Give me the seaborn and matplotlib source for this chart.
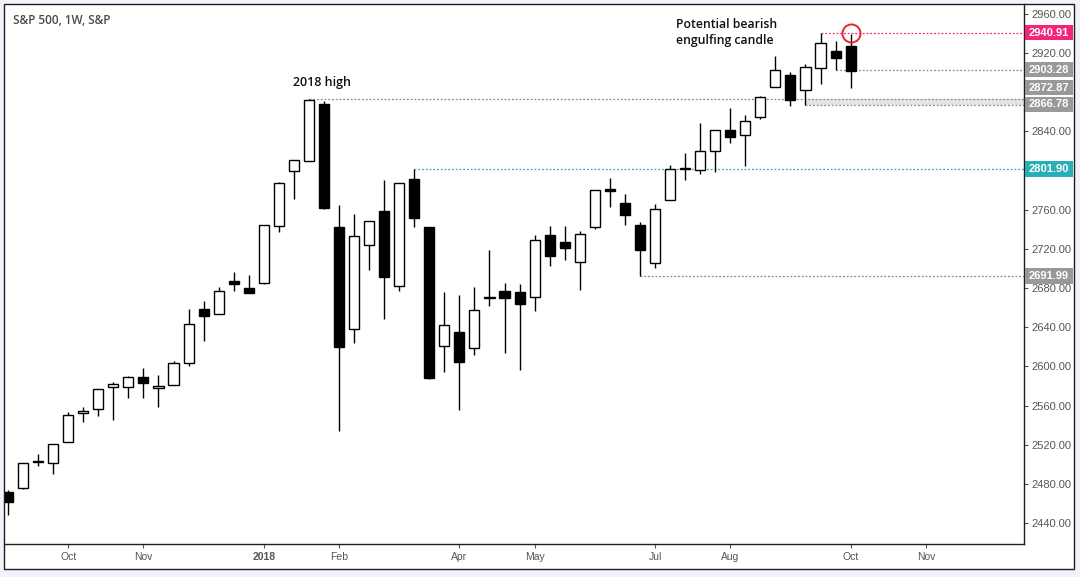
import numpy as np
import pandas as pd
import matplotlib
matplotlib.use("Agg")
import matplotlib.pyplot as plt
import matplotlib.transforms as mtransforms
from matplotlib.patches import Rectangle
import seaborn as sns

# ---------------- data ----------------
weeks = pd.date_range("2017-09-04", periods=57, freq="7D")

opens = [2471.3, 2475.4, 2503.0, 2500.9, 2522.4, 2552.0, 2556.1, 2578.6, 2578.6, 2588.8,
         2577.6, 2580.6, 2603.1, 2658.6, 2653.2, 2687.2, 2679.7, 2684.9, 2743.4, 2799.3,
         2809.5, 2868.0, 2742.4, 2637.9, 2723.7, 2758.7, 2681.8, 2791.1, 2742.1, 2620.5,
         2634.8, 2618.4, 2670.0, 2676.7, 2675.7, 2670.5, 2733.9, 2726.7, 2706.3, 2742.1,
         2781.0, 2766.6, 2744.1, 2705.3, 2769.7, 2802.5, 2800.3, 2819.7, 2841.2, 2836.1,
         2854.5, 2885.1, 2897.4, 2882.0, 2904.5, 2921.9, 2927.0]
highs = [2473.7, 2501.5, 2510.4, 2520.3, 2553.1, 2558.2, 2576.6, 2584.0, 2589.8, 2598.0,
         2590.9, 2605.2, 2658.3, 2667.1, 2680.8, 2696.4, 2693.3, 2744.1, 2788.4, 2810.8,
         2872.87, 2870.8, 2764.5, 2755.7, 2748.2, 2790.4, 2787.0, 2801.9, 2742.1, 2675.7,
         2672.6, 2681.1, 2718.9, 2685.2, 2683.8, 2733.9, 2743.1, 2743.1, 2738.3, 2779.9,
         2792.1, 2775.8, 2747.2, 2765.6, 2805.7, 2817.7, 2848.3, 2841.2, 2864.0, 2856.5,
         2876.5, 2917.1, 2900.4, 2908.6, 2940.91, 2932.1, 2939.9]
lows = [2448.1, 2474.5, 2498.5, 2489.7, 2522.4, 2543.4, 2549.6, 2545.5, 2568.0, 2568.0,
        2558.8, 2580.6, 2600.7, 2626.2, 2653.2, 2677.3, 2674.6, 2683.8, 2737.6, 2770.7,
        2809.5, 2760.8, 2534.3, 2624.2, 2698.7, 2648.7, 2677.3, 2742.7, 2587.4, 2594.5,
        2555.7, 2611.9, 2661.9, 2613.9, 2596.6, 2656.9, 2702.8, 2708.9, 2678.3, 2740.6,
        2763.1, 2744.7, 2691.99, 2700.8, 2769.7, 2790.4, 2796.8, 2798.3, 2828.5, 2804.4,
        2852.4, 2885.1, 2865.5, 2866.78, 2888.2, 2903.28, 2884.7]
closes = [2461.7, 2500.9, 2502.2, 2520.3, 2550.0, 2554.1, 2576.6, 2581.7, 2588.8, 2583.3,
          2579.6, 2603.1, 2643.0, 2651.7, 2677.0, 2683.8, 2674.6, 2744.1, 2787.0, 2810.8,
          2872.0, 2762.1, 2620.1, 2733.2, 2748.2, 2691.6, 2787.0, 2751.9, 2588.4, 2641.9,
          2604.8, 2657.3, 2670.5, 2670.1, 2664.0, 2728.8, 2713.1, 2721.2, 2734.9, 2779.9,
          2779.0, 2755.0, 2719.2, 2760.5, 2801.9, 2801.5, 2819.7, 2841.2, 2834.0, 2850.4,
          2874.9, 2902.5, 2871.8, 2905.5, 2930.1, 2914.7, 2902.1]

level_values = [2940.91, 2903.28, 2872.87, 2866.78, 2801.90, 2691.99]
level_labels = ["2940.91", "2903.28", "2872.87", "2866.78", "2801.90", "2691.99"]
level_starts = ["2018-09-17", "2018-09-24", "2018-01-22", "2018-09-10", "2018-03-12", "2018-06-25"]

y_ticks = [2440, 2480, 2520, 2560, 2600, 2640, 2680, 2720, 2760, 2800, 2840, 2880, 2920, 2960]
hidden_y_labels = [2800, 2880]  # covered by the price boxes in the reference
x_tick_dates = ["2017-10-02", "2017-11-06", "2018-01-01", "2018-02-05", "2018-04-02",
                "2018-05-07", "2018-07-02", "2018-08-06", "2018-10-01", "2018-11-05"]
x_tick_labels = ["Oct", "Nov", "2018", "Feb", "Apr", "May", "Jul", "Aug", "Oct", "Nov"]

df = pd.DataFrame({"date": weeks, "open": opens, "high": highs, "low": lows, "close": closes})

# ---------------- style ----------------
sns.set_theme(style="white")
plt.rcParams["font.family"] = ["Liberation Sans", "DejaVu Sans"]

W, H = 1080, 577
fig = plt.figure(figsize=(W / 100, H / 100), dpi=100, facecolor="#f0f3fa")
fig.add_artist(Rectangle((4 / W, 8 / H), 1070 / W, 565 / H, transform=fig.transFigure,
                         facecolor="white", edgecolor="#1e1e1e", lw=1.0, zorder=0))

ax = fig.add_axes([5 / W, 33 / H, 1019 / W, 540 / H])
ax.set_facecolor("none")

px_per_day = 15.1 / 7.0
x_left = weeks[0] - pd.Timedelta(days=3 / px_per_day)
x_right = weeks[-1] + pd.Timedelta(days=174 / px_per_day)
ax.set_xlim(x_left, x_right)
ax.set_ylim(2418.5, 2970.2)

# candles
up = df["close"] >= df["open"]
body_bottom = np.minimum(df["open"], df["close"])
body_height = np.maximum(np.abs(df["close"] - df["open"]), 0.7)
ax.vlines(df["date"], df["low"], df["high"], color="black", lw=1.0, zorder=2)
ax.bar(df["date"], body_height, bottom=body_bottom, width=4.7,
       color=np.where(up, "white", "black"), edgecolor="black", linewidth=1.0, zorder=3)

# levels
level_colors = ["#f0287d", "#8c8c8c", "#8c8c8c", "#8c8c8c", "#1fb3c0", "#8c8c8c"]
box_colors = ["#f5237b", "#999999", "#999999", "#999999", "#2aaeb5", "#999999"]
label_offsets = [0, 0, 12.0, 0.8, 0, 0]

ax.fill_between([pd.Timestamp("2018-09-10"), x_right], 2866.78, 2872.87,
                color="#e4e4e4", lw=0, zorder=0.5)
for val, start, col in zip(level_values, level_starts, level_colors):
    ax.hlines(val, pd.Timestamp(start), x_right, colors=col, lw=0.9,
              linestyles=(0, (1.5, 1.5)), zorder=1)

trans = mtransforms.blended_transform_factory(ax.transAxes, ax.transData)
bw = 48 / 1019
for val, lab, bc, off in zip(level_values, level_labels, box_colors, label_offsets):
    yc = val + off
    ax.add_patch(Rectangle((1.0005, yc - 8.0), bw, 16.0, transform=trans, clip_on=False,
                           facecolor=bc, edgecolor="none", zorder=5))
    ax.text(1.0005 + bw / 2, yc, lab, transform=trans, ha="center", va="center",
            color="white", fontsize=8, fontweight="bold", clip_on=False, zorder=6)

# circle on last candle high
ax.plot([weeks[-1]], [2941.0], marker="o", ms=13, mfc="none", mec="#e8262b",
        mew=1.4, zorder=6, clip_on=False)

# annotations
ann_font = ["Open Sans", "DejaVu Sans"]
ax.text(pd.Timestamp("2018-01-28"), 2889.5, "2018 high", ha="center", va="center",
        fontsize=9, fontweight="semibold", color="#111111", family=ann_font)
ax.text(pd.Timestamp("2018-07-12"), 2941.0, "Potential bearish\nengulfing candle",
        ha="left", va="center", fontsize=8.8, fontweight="semibold", color="#111111",
        family=ann_font, linespacing=1.35)

fig.text(13 / W, 1 - 20 / H, "S&P 500, 1W, S&P", ha="left", va="center", fontsize=8.5,
         fontweight="semibold", color="#4a4a4a", family=ann_font)

# axes
for s in ["left", "top"]:
    ax.spines[s].set_visible(False)
for s in ["right", "bottom"]:
    ax.spines[s].set_visible(True)
    ax.spines[s].set_color("#1e1e1e")
    ax.spines[s].set_linewidth(1.0)

ax.yaxis.tick_right()
ax.set_yticks(y_ticks)
ax.set_yticklabels(["" if v in hidden_y_labels else f"{v:.2f}" for v in y_ticks])
ax.tick_params(axis="y", which="both", right=True, left=False, length=3, width=0.8,
               color="#555555", labelsize=8, labelcolor="#555555", pad=2)
ax.set_xticks(pd.to_datetime(x_tick_dates))
ax.set_xticklabels(x_tick_labels)
ax.tick_params(axis="x", bottom=True, length=3, width=0.8, color="#555555",
               labelsize=7.5, labelcolor="#555555", pad=3)
for t in ax.get_xticklabels():
    if t.get_text() == "2018":
        t.set_fontweight("bold")
ax.grid(False)
ax.set_xlabel("")
ax.set_ylabel("")

fig.savefig("out.png", dpi=100, facecolor=fig.get_facecolor())
